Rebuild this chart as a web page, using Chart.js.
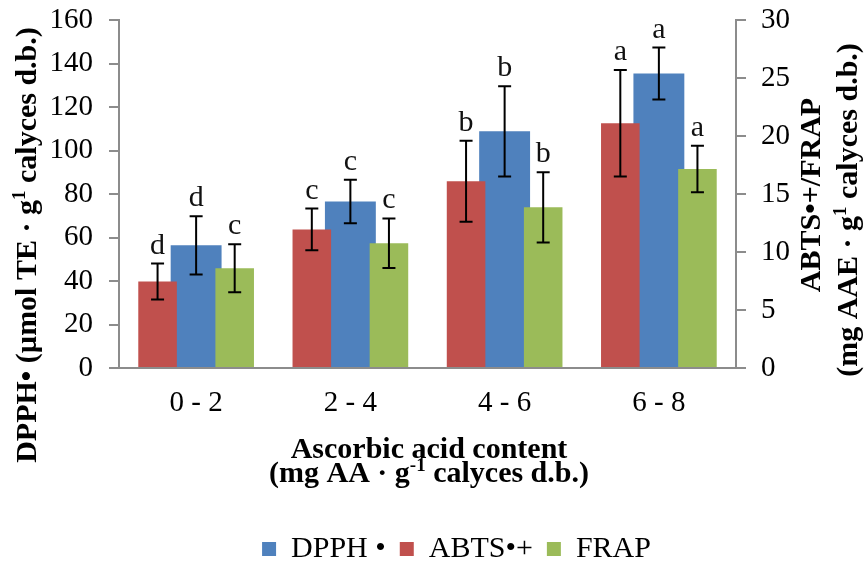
<!DOCTYPE html>
<html>
<head>
<meta charset="utf-8">
<script src="https://cdn.jsdelivr.net/npm/chart.js@4.4.1/dist/chart.umd.min.js"></script>
<style>
  html, body { margin: 0; padding: 0; background: #fff; }
</style>
</head>
<body>
<canvas id="antioxChart" width="865" height="565"></canvas>
<script>
// Chart data
const categories = ['0 - 2', '2 - 4', '4 - 6', '6 - 8'];

const dpphValues = [56.4, 76.6, 108.8, 135.4];
const dpphErrors = [13.4, 10.0, 20.7, 11.9];
const dpphLetters = ['d', 'c', 'b', 'a'];

const abtsValues = [7.45, 11.95, 16.1, 21.1];
const abtsErrors = [1.55, 1.8, 3.5, 4.6];
const abtsLetters = ['d', 'c', 'b', 'a'];

const frapValues = [8.6, 10.75, 13.85, 17.15];
const frapErrors = [2.07, 2.14, 3.03, 2.0];
const frapLetters = ['c', 'c', 'b', 'a'];

const leftTicks = { min: 0, max: 160, step: 20 };
const rightTicks = { min: 0, max: 30, step: 5 };

// legend shows DPPH first, drawing order keeps it behind the others
const legendOrder = ['DPPH •', 'ABTS•+', 'FRAP'];

const axisGray = '#8c8c8c';
const serif = '"Liberation Serif", "Times New Roman", serif';

// Error bars + significance letters
const errorBarsPlugin = {
    id: 'errorBars',
    afterDatasetsDraw(chart) {
        const ctx = chart.ctx;
        chart.data.datasets.forEach((ds, i) => {
            const meta = chart.getDatasetMeta(i);
            const yScale = chart.scales[meta.yAxisID];
            meta.data.forEach((bar, j) => {
                const v = ds.data[j];
                const e = ds.errors[j];
                const x = bar.x;
                const yTop = yScale.getPixelForValue(v + e);
                const yBot = yScale.getPixelForValue(v - e);
                ctx.save();
                ctx.strokeStyle = '#000';
                ctx.lineWidth = 2;
                ctx.beginPath();
                ctx.moveTo(x, yTop); ctx.lineTo(x, yBot);
                ctx.moveTo(x - 6.5, yTop); ctx.lineTo(x + 6.5, yTop);
                ctx.moveTo(x - 6.5, yBot); ctx.lineTo(x + 6.5, yBot);
                ctx.stroke();
                ctx.fillStyle = '#111';
                ctx.font = '30px ' + serif;
                ctx.textAlign = 'center';
                ctx.textBaseline = 'alphabetic';
                ctx.fillText(ds.letters[j], x, yTop - 10);
                ctx.restore();
            });
        });
    }
};

// text with a superscript part, centred on (0,0) baseline
function drawRich(ctx, parts, size) {
    const base = 'bold ' + size + 'px ' + serif;
    const sup = 'bold ' + Math.round(size * 0.62) + 'px ' + serif;
    let total = 0;
    parts.forEach(p => {
        ctx.font = p.sup ? sup : base;
        p.w = ctx.measureText(p.t).width;
        total += p.w;
    });
    let x = -total / 2;
    ctx.textAlign = 'left';
    ctx.textBaseline = 'alphabetic';
    parts.forEach(p => {
        ctx.font = p.sup ? sup : base;
        ctx.fillText(p.t, x, p.sup ? -size * 0.38 : 0);
        x += p.w;
    });
}

const axisTitlesPlugin = {
    id: 'axisTitles',
    afterDraw(chart) {
        const ctx = chart.ctx;
        ctx.save();
        ctx.fillStyle = '#000';

        // left title
        ctx.save();
        ctx.translate(36, 245);
        ctx.rotate(-Math.PI / 2);
        drawRich(ctx, [{ t: 'DPPH• (µmol TE · g' }, { t: '1', sup: true }, { t: ' calyces d.b.)' }], 30);
        ctx.restore();

        // right title, two lines
        ctx.save();
        ctx.translate(820, 195);
        ctx.rotate(-Math.PI / 2);
        drawRich(ctx, [{ t: 'ABTS•+/FRAP' }], 30);
        ctx.restore();
        ctx.save();
        ctx.translate(857, 210);
        ctx.rotate(-Math.PI / 2);
        drawRich(ctx, [{ t: '(mg AAE · g' }, { t: '1', sup: true }, { t: ' calyces d.b.)' }], 30);
        ctx.restore();

        // x title
        ctx.save();
        ctx.translate(429, 458);
        drawRich(ctx, [{ t: 'Ascorbic acid content' }], 30);
        ctx.restore();
        ctx.save();
        ctx.translate(429, 482);
        drawRich(ctx, [{ t: '(mg AA · g' }, { t: '-1', sup: true }, { t: ' calyces d.b.)' }], 30);
        ctx.restore();

        ctx.restore();
    }
};

const ctx = document.getElementById('antioxChart').getContext('2d');

new Chart(ctx, {
    type: 'bar',
    data: {
        labels: categories,
        datasets: [{
            label: 'ABTS•+',
            data: abtsValues,
            errors: abtsErrors,
            letters: abtsLetters,
            yAxisID: 'y2',
            backgroundColor: '#C0504D',
            categoryPercentage: 1.0,
            barPercentage: 0.5
        }, {
            label: 'FRAP',
            data: frapValues,
            errors: frapErrors,
            letters: frapLetters,
            yAxisID: 'y2',
            backgroundColor: '#9BBB59',
            categoryPercentage: 1.0,
            barPercentage: 0.5
        }, {
            label: 'DPPH •',
            data: dpphValues,
            errors: dpphErrors,
            letters: dpphLetters,
            yAxisID: 'y',
            backgroundColor: '#4F81BD',
            grouped: false,
            categoryPercentage: 1.0,
            barPercentage: 0.33
        }]
    },
    options: {
        responsive: false,
        animation: false,
        devicePixelRatio: 1,
        layout: {
            padding: { top: 20, left: 45, right: -3, bottom: -9 }
        },
        plugins: {
            legend: {
                position: 'bottom',
                labels: {
                    boxWidth: 14,
                    boxHeight: 14,
                    padding: 14,
                    color: '#000',
                    font: { family: serif, size: 30 },
                    sort: (a, b) => legendOrder.indexOf(a.text) - legendOrder.indexOf(b.text)
                }
            },
            tooltip: { enabled: false }
        },
        scales: {
            x: {
                grid: { display: false, drawTicks: false },
                border: { display: true, color: axisGray, width: 2 },
                ticks: {
                    color: '#000',
                    padding: 18,
                    font: { family: serif, size: 29 }
                },
                afterFit: (scale) => { scale.height = 152; }
            },
            y: {
                position: 'left',
                min: leftTicks.min,
                max: leftTicks.max,
                grid: { drawOnChartArea: false, color: axisGray, lineWidth: 2, tickLength: 10 },
                border: { display: true, color: axisGray, width: 2 },
                ticks: {
                    stepSize: leftTicks.step,
                    color: '#000',
                    padding: 16,
                    font: { family: serif, size: 29 }
                },
                afterFit: (scale) => {
                    scale.width = 74;
                    scale.paddingTop = 0;
                    scale.paddingBottom = 0;
                }
            },
            y2: {
                position: 'right',
                min: rightTicks.min,
                max: rightTicks.max,
                grid: { drawOnChartArea: false, color: axisGray, lineWidth: 2, tickLength: 10 },
                border: { display: true, color: axisGray, width: 2 },
                ticks: {
                    stepSize: rightTicks.step,
                    color: '#000',
                    padding: 15,
                    font: { family: serif, size: 29 }
                },
                afterFit: (scale) => {
                    scale.width = 132;
                    scale.paddingTop = 0;
                    scale.paddingBottom = 0;
                }
            }
        }
    },
    plugins: [errorBarsPlugin, axisTitlesPlugin]
});
</script>
</body>
</html>
